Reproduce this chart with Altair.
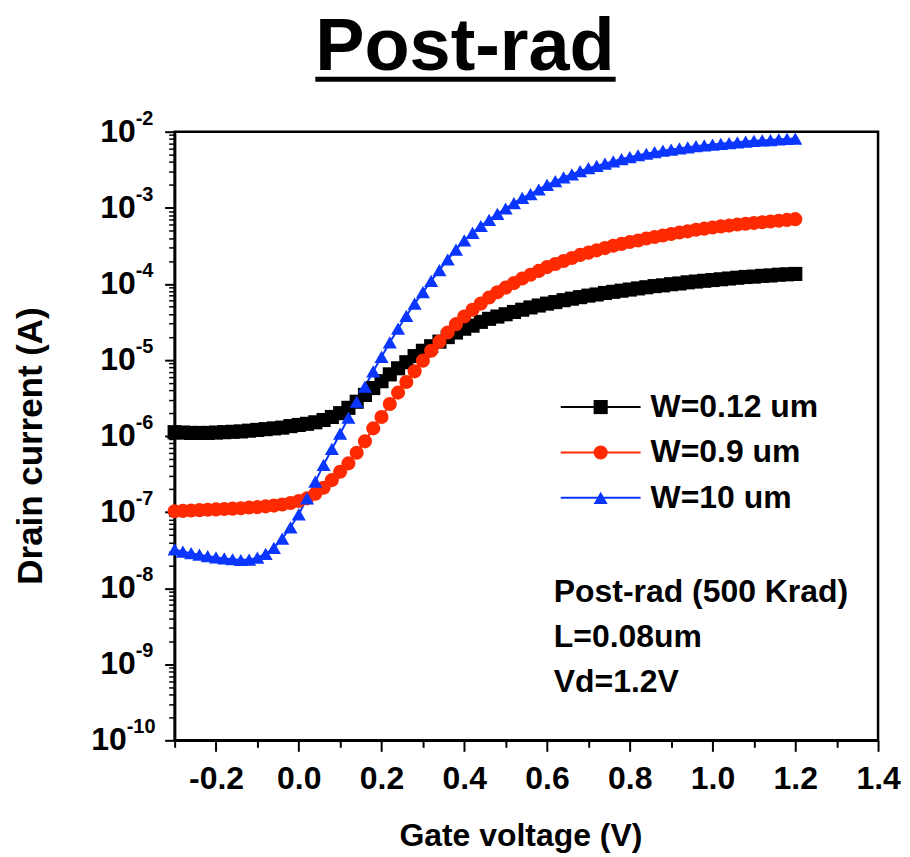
import altair as alt
import pandas as pd

# ---------------- data ----------------
vg = [round(-0.30 + 0.02 * i, 2) for i in range(76)]  # gate-voltage sweep, 20 mV step

series_names = ["W=0.12 um", "W=0.9 um", "W=10 um"]

# log10 of drain current (A)
log_w012 = [-5.95, -5.955, -5.96, -5.96, -5.96, -5.955, -5.95, -5.945, -5.94, -5.93,
            -5.92, -5.91, -5.90, -5.89, -5.87, -5.855, -5.84, -5.82, -5.79, -5.75,
            -5.70, -5.63, -5.55, -5.46, -5.37, -5.28, -5.19, -5.11, -5.03, -4.95,
            -4.88, -4.82, -4.76, -4.70, -4.64, -4.59, -4.55, -4.50, -4.46, -4.43,
            -4.40, -4.37, -4.34, -4.31, -4.285, -4.26, -4.24, -4.215, -4.195, -4.175,
            -4.155, -4.14, -4.12, -4.105, -4.09, -4.075, -4.06, -4.045, -4.03, -4.02,
            -4.005, -3.995, -3.98, -3.97, -3.96, -3.95, -3.94, -3.93, -3.92, -3.91,
            -3.905, -3.895, -3.89, -3.88, -3.875, -3.87]

log_w09 = [-6.99, -6.985, -6.98, -6.975, -6.97, -6.965, -6.96, -6.955, -6.95, -6.94,
           -6.935, -6.925, -6.915, -6.90, -6.88, -6.855, -6.82, -6.76, -6.68, -6.58,
           -6.47, -6.36, -6.22, -6.07, -5.90, -5.75, -5.58, -5.43, -5.29, -5.15,
           -5.01, -4.88, -4.76, -4.64, -4.53, -4.43, -4.34, -4.26, -4.18, -4.11,
           -4.05, -3.99, -3.93, -3.88, -3.83, -3.78, -3.74, -3.70, -3.66, -3.62,
           -3.59, -3.56, -3.53, -3.50, -3.475, -3.45, -3.43, -3.405, -3.385, -3.365,
           -3.345, -3.325, -3.31, -3.29, -3.275, -3.26, -3.245, -3.235, -3.22, -3.21,
           -3.20, -3.19, -3.18, -3.17, -3.16, -3.15]

log_w10 = [-7.49, -7.52, -7.54, -7.56, -7.58, -7.595, -7.61, -7.62, -7.63, -7.625,
           -7.60, -7.55, -7.47, -7.35, -7.20, -7.03, -6.82, -6.60, -6.38, -6.17,
           -5.97, -5.76, -5.55, -5.35, -5.15, -4.96, -4.77, -4.59, -4.42, -4.26,
           -4.11, -3.96, -3.82, -3.68, -3.55, -3.43, -3.33, -3.24, -3.16, -3.08,
           -3.01, -2.94, -2.87, -2.82, -2.76, -2.70, -2.65, -2.60, -2.56, -2.52,
           -2.48, -2.45, -2.42, -2.39, -2.36, -2.335, -2.31, -2.29, -2.27, -2.25,
           -2.235, -2.22, -2.205, -2.19, -2.18, -2.17, -2.16, -2.15, -2.14, -2.13,
           -2.12, -2.115, -2.11, -2.10, -2.095, -2.09]

colors = ["#000000", "#ff2a00", "#0a36ff"]
shapes = ["square", "circle", "triangle-up"]
marker_sizes = [200, 200, 370]

x_major = [-0.2, 0.0, 0.2, 0.4, 0.6, 0.8, 1.0, 1.2, 1.4]
x_minor = [-0.3, -0.1, 0.1, 0.3, 0.5, 0.7, 0.9, 1.1, 1.3]
y_decades = [1e-2, 1e-3, 1e-4, 1e-5, 1e-6, 1e-7, 1e-8, 1e-9, 1e-10]
y_exponents = ["-2", "-3", "-4", "-5", "-6", "-7", "-8", "-9", "-10"]
y_minor = [m * 10.0 ** k for k in range(-10, -2) for m in range(2, 10)]

chart_title = "Post-rad"
x_title = "Gate voltage (V)"
y_title = "Drain current (A)"
note_lines = ["Post-rad (500 Krad)", "L=0.08um", "Vd=1.2V"]

# ---------------- tables ----------------
rows = []
for name, logs in zip(series_names, [log_w012, log_w09, log_w10]):
    for v, lg in zip(vg, logs):
        rows.append({"Vg": v, "Id": 10.0 ** lg, "series": name})
df = pd.DataFrame(rows)

df_dec = pd.DataFrame({"val": y_decades, "base": ["10"] * len(y_decades), "exp": y_exponents})
df_leg = pd.DataFrame({"series": series_names})

FONT = "Liberation Sans"

xscale = alt.Scale(domain=[-0.3, 1.4], nice=False, zero=False)
yscale = alt.Scale(type="log", domain=[1e-10, 1e-2], nice=False)
color = alt.Color("series:N", scale=alt.Scale(domain=series_names, range=colors), legend=None)
shape = alt.Shape("series:N", scale=alt.Scale(domain=series_names, range=shapes), legend=None)
size = alt.Size("series:N", scale=alt.Scale(domain=series_names, range=marker_sizes), legend=None)

x_axis_major = alt.Axis(values=x_major, orient="bottom", format=".1f",
                        labelExpr="replace(datum.label, '\u2212', '-')",
                        tickSize=11, tickWidth=2, tickColor="black",
                        domain=True, domainWidth=2.5, domainColor="black",
                        labelFont=FONT, labelFontSize=32, labelFontWeight="bold",
                        labelColor="black", labelPadding=12, labelFlush=False,
                        labelOverlap=False, grid=False, title=None)
y_axis_major = alt.Axis(values=y_decades, orient="left", tickSize=10, tickWidth=2,
                        tickColor="black", domain=True, domainWidth=2.5,
                        domainColor="black", labels=False, grid=False, title=None)
x_axis_minor = alt.Axis(values=x_minor, orient="bottom", tickSize=7, tickWidth=2,
                        tickColor="black", domain=False, labels=False, grid=False,
                        title=None)
y_axis_minor = alt.Axis(values=y_minor, orient="left", tickSize=6, tickWidth=1.5,
                        tickColor="black", domain=False, labels=False, grid=False,
                        title=None)

lines = alt.Chart(df).mark_line(strokeWidth=2).encode(
    x=alt.X("Vg:Q", scale=xscale, axis=x_axis_major),
    y=alt.Y("Id:Q", scale=yscale, axis=y_axis_major),
    color=color,
    detail="series:N",
)

points = alt.Chart(df).mark_point(filled=True, opacity=1).encode(
    x=alt.X("Vg:Q", scale=xscale, axis=None),
    y=alt.Y("Id:Q", scale=yscale, axis=None),
    color=color,
    shape=shape,
    size=size,
)

minor = alt.Chart(df).mark_point(opacity=0).encode(
    x=alt.X("Vg:Q", scale=xscale, axis=x_axis_minor),
    y=alt.Y("Id:Q", scale=yscale, axis=y_axis_minor),
)

# y tick labels as 10 with superscript exponent
txt = dict(font=FONT, fontWeight="bold", color="black")
ybase_a = alt.Chart(df_dec).transform_filter(alt.datum.exp != "-10").mark_text(
    align="right", baseline="middle", fontSize=32, **txt).encode(
    y=alt.Y("val:Q", scale=yscale, axis=None), x=alt.value(-39), text="base:N")
yexp_a = alt.Chart(df_dec).transform_filter(alt.datum.exp != "-10").mark_text(
    align="left", baseline="middle", fontSize=20, dy=-13, **txt).encode(
    y=alt.Y("val:Q", scale=yscale, axis=None), x=alt.value(-39), text="exp:N")
ybase_b = alt.Chart(df_dec).transform_filter(alt.datum.exp == "-10").mark_text(
    align="right", baseline="middle", fontSize=32, **txt).encode(
    y=alt.Y("val:Q", scale=yscale, axis=None), x=alt.value(-48), text="base:N")
yexp_b = alt.Chart(df_dec).transform_filter(alt.datum.exp == "-10").mark_text(
    align="left", baseline="middle", fontSize=20, dy=-13, **txt).encode(
    y=alt.Y("val:Q", scale=yscale, axis=None), x=alt.value(-48), text="exp:N")

one = pd.DataFrame({"a": [0]})

title_txt = alt.Chart(pd.DataFrame({"t": [chart_title]})).mark_text(
    align="center", baseline="alphabetic", fontSize=74, **txt).encode(
    x=alt.value(291), y=alt.value(-62), text="t:N")
title_rule = alt.Chart(one).mark_rule(strokeWidth=5, color="black").encode(
    x=alt.value(141), x2=alt.value(442), y=alt.value(-52.5))

xt = alt.Chart(pd.DataFrame({"t": [x_title]})).mark_text(
    align="center", baseline="alphabetic", fontSize=32, **txt).encode(
    x=alt.value(347), y=alt.value(716), text="t:N")
yt = alt.Chart(pd.DataFrame({"t": [y_title]})).mark_text(
    align="center", baseline="middle", fontSize=35, angle=270, **txt).encode(
    x=alt.value(-144), y=alt.value(315), text="t:N")

note_layers = []
for i, line in enumerate(note_lines):
    note_layers.append(
        alt.Chart(pd.DataFrame({"t": [line]})).mark_text(
            align="left", baseline="middle", fontSize=32, **txt).encode(
            x=alt.value(380), y=alt.value(461 + i * 45.5), text="t:N"))

legend_layers = []
for i, name in enumerate(series_names):
    ypos = 276 + i * 45.5
    src = alt.Chart(df_leg).transform_filter(alt.datum.series == name)
    legend_layers.append(src.mark_rule(strokeWidth=2).encode(
        x=alt.value(387), x2=alt.value(467), y=alt.value(ypos), color=color))
    legend_layers.append(src.mark_point(filled=True, opacity=1).encode(
        x=alt.value(427), y=alt.value(ypos), color=color, shape=shape, size=size))
    legend_layers.append(src.mark_text(align="left", baseline="middle",
                                       fontSize=32, **txt).encode(
        x=alt.value(477), y=alt.value(ypos), text="series:N"))

chart = alt.layer(
    lines, points, minor,
    ybase_a, yexp_a, ybase_b, yexp_b,
    title_txt, title_rule, xt, yt,
    *note_layers, *legend_layers,
).resolve_scale(
    x="shared", y="shared", color="shared", shape="shared", size="shared"
).resolve_axis(
    x="independent", y="independent"
).properties(
    width=705, height=610,
    padding={"left": 167, "top": 123, "right": 24, "bottom": 116},
    autosize=alt.AutoSizeParams(type="none"),
    background="white",
).configure_view(stroke="black", strokeWidth=2.5)

chart.save("out.html", embed_options={"renderer": "svg", "actions": False})
